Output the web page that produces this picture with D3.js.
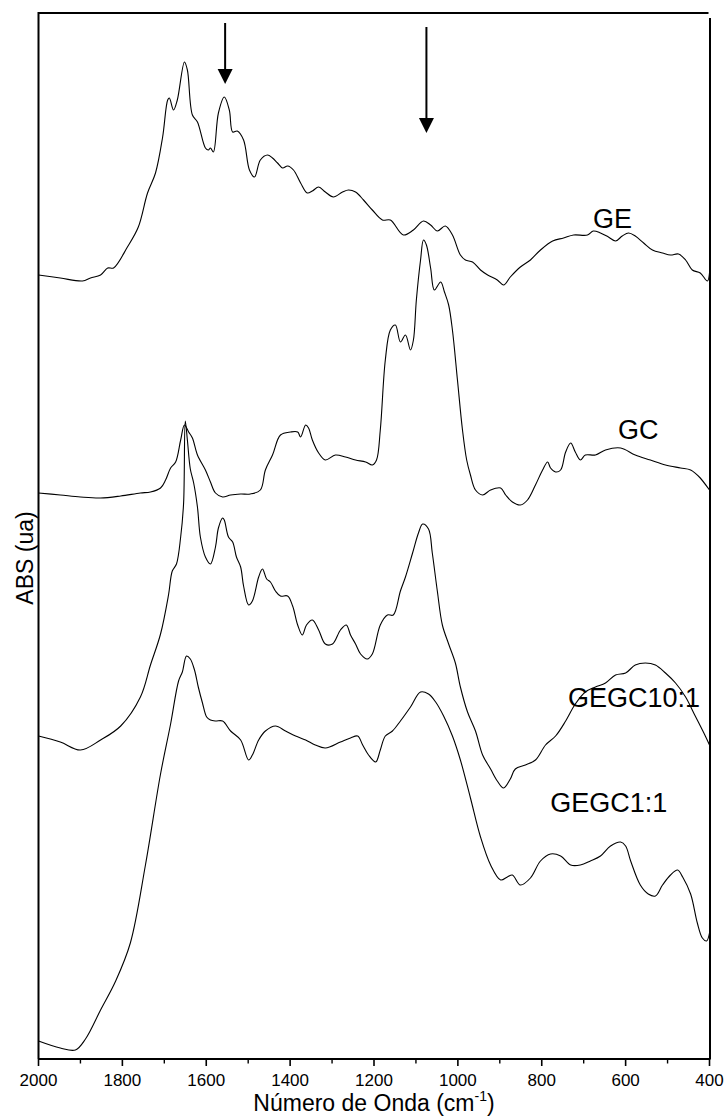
<!DOCTYPE html>
<html>
<head>
<meta charset="utf-8">
<script src="https://cdn.jsdelivr.net/npm/d3@7"></script>
<style>
  html, body { margin: 0; padding: 0; background: #fff; }
  svg { display: block; font-family: "Liberation Sans", Arial, sans-serif; }
</style>
</head>
<body>
<svg id="chart" width="725" height="1117"></svg>
<script>
// FTIR spectra: [wavenumber (cm-1), absorbance (arbitrary units, offset per sample)]
const spectrumGE = [
  [2000,78.4],[1948,78.1],[1895,77.8],[1876,78.1],[1852,78.4],[1835,79.1],[1821,79.1],
  [1788,81.2],[1762,83.2],[1740,86.6],[1721,88.6],[1704,92.2],[1692,95.9],[1688,96.1],
  [1678,94.9],[1669,95.9],[1652,99.7],[1645,98.9],[1633,94.4],[1621,93.7],[1602,91.1],
  [1595,90.9],[1590,91.1],[1583,90.7],[1571,94.6],[1557,96.2],[1545,94.9],[1537,92.7],
  [1526,92.8],[1511,91.9],[1497,88.9],[1485,88.2],[1471,89.9],[1454,90.4],[1442,90.1],
  [1430,89.6],[1418,89.1],[1406,89.3],[1392,88.9],[1375,87.6],[1359,86.6],[1347,86.8],
  [1332,87.2],[1316,86.7],[1297,86.2],[1275,86.7],[1261,86.9],[1244,86.7],[1225,85.9],
  [1204,84.9],[1180,83.9],[1161,83.9],[1130,82.4],[1106,82.9],[1082,83.8],[1065,83.4],
  [1049,82.8],[1030,83.3],[1013,82.4],[994,80.4],[982,79.9],[965,79.7],[946,78.9],
  [929,78.4],[906,77.9],[891,77.4],[875,78.2],[851,79.2],[827,79.9],[803,80.9],
  [774,81.8],[748,82.1],[724,82.4],[691,82.4],[677,82.8],[660,82.6],[641,82.2],
  [624,81.8],[608,82.3],[593,82.6],[577,82.3],[557,81.6],[536,80.9],[512,80.6],
  [493,80.4],[474,80.5],[457,79.9],[441,78.9],[422,78.6],[405,77.8],[400,78.6]
];

const spectrumGC = [
  [2000,56.6],[1948,56.4],[1900,56.2],[1852,56.1],[1804,56.3],[1757,56.6],[1733,56.7],
  [1709,57.1],[1697,57.9],[1685,59.1],[1673,59.7],[1661,61.9],[1652,63.4],[1642,62.7],
  [1633,62.1],[1621,60.4],[1602,58.9],[1590,57.7],[1578,56.6],[1561,56.2],[1542,56.4],
  [1518,56.5],[1495,56.5],[1471,56.9],[1459,58.9],[1442,60.4],[1423,62.4],[1399,62.7],
  [1382,62.7],[1375,62.2],[1363,63.4],[1356,63.1],[1347,61.9],[1332,60.6],[1316,59.9],
  [1292,60.4],[1268,60.2],[1244,59.9],[1220,59.7],[1204,59.4],[1194,59.9],[1185,62.9],
  [1173,69.9],[1161,72.9],[1149,73.4],[1137,71.7],[1125,72.4],[1113,70.9],[1106,71.9],
  [1099,75.9],[1089,79.9],[1082,81.9],[1075,81.4],[1065,79.1],[1056,76.9],[1041,77.7],
  [1032,76.7],[1022,75.4],[1013,72.9],[1001,67.9],[989,62.9],[979,59.9],[970,58.4],
  [958,56.9],[941,56.4],[922,56.9],[898,57.1],[886,56.4],[870,55.7],[851,55.4],
  [834,55.9],[815,57.4],[798,58.9],[786,59.7],[779,59.1],[767,58.7],[755,58.9],
  [743,60.7],[731,61.6],[720,60.7],[708,59.9],[696,60.4],[672,60.4],[648,60.9],
  [612,61.1],[577,60.4],[541,59.9],[505,59.4],[469,59.1],[445,58.9],[422,58.1],[400,56.9]
];

const spectrumGEGC10 = [
  [2000,32.3],[1948,31.7],[1900,30.9],[1852,31.9],[1804,33.3],[1757,36.2],[1733,39.4],
  [1709,42.5],[1690,46.4],[1681,48.8],[1671,49.5],[1661,52.2],[1654,55.6],[1650,63.8],
  [1645,61.9],[1638,59.0],[1630,57.6],[1621,55.2],[1614,52.2],[1602,50.2],[1590,49.5],
  [1578,51.2],[1571,53.1],[1561,54.1],[1557,53.9],[1547,52.2],[1537,51.7],[1528,50.2],
  [1518,49.2],[1511,47.3],[1499,45.4],[1490,45.8],[1475,48.2],[1466,49.0],[1456,48.0],
  [1447,47.7],[1435,46.8],[1423,46.3],[1406,46.3],[1394,45.3],[1382,43.4],[1371,42.4],
  [1361,43.4],[1347,43.9],[1332,42.9],[1316,41.5],[1299,41.5],[1280,42.9],[1266,43.4],
  [1256,42.4],[1244,41.5],[1232,40.5],[1216,40.0],[1204,40.5],[1185,43.4],[1168,44.4],
  [1154,44.4],[1137,46.8],[1125,48.2],[1108,50.6],[1094,52.6],[1084,53.5],[1070,53.0],
  [1061,50.6],[1049,46.8],[1037,43.4],[1022,41.5],[1006,39.6],[994,37.2],[977,34.7],
  [958,32.8],[941,30.4],[922,29.0],[906,27.8],[891,27.1],[875,28.0],[863,29.0],
  [839,29.4],[815,29.9],[791,31.4],[767,32.3],[743,33.8],[720,35.5],[696,36.7],
  [672,37.2],[648,37.6],[624,38.4],[600,38.6],[577,39.4],[553,39.6],[529,39.4],
  [505,38.6],[481,37.6],[457,36.2],[434,34.3],[410,32.3],[400,31.4]
];

const spectrumGEGC11 = [
  [2000,1.8],[1948,1.1],[1912,0.9],[1888,2.0],[1852,4.9],[1816,7.8],[1781,11.6],
  [1745,19.4],[1709,28.5],[1685,33.5],[1666,37.8],[1657,38.7],[1647,40.3],[1638,40.0],
  [1628,38.9],[1619,37.2],[1609,35.6],[1599,34.2],[1590,33.9],[1578,33.8],[1561,33.8],
  [1542,32.8],[1518,31.9],[1499,29.9],[1490,30.4],[1475,31.9],[1459,32.8],[1435,33.3],
  [1411,32.8],[1387,32.3],[1363,31.9],[1340,31.4],[1316,31.1],[1280,31.7],[1256,32.1],
  [1239,32.3],[1227,31.4],[1213,30.4],[1196,29.7],[1185,30.9],[1173,32.3],[1156,32.8],
  [1137,33.8],[1113,35.2],[1089,36.7],[1070,36.5],[1053,35.7],[1034,34.3],[1013,32.3],
  [994,29.9],[970,26.1],[946,22.2],[922,19.4],[898,17.9],[882,18.2],[870,18.4],
  [851,17.4],[827,18.1],[803,19.8],[779,20.5],[755,20.3],[731,19.4],[708,19.4],
  [684,19.8],[660,20.3],[636,21.3],[612,21.7],[600,21.3],[588,19.8],[565,17.4],
  [546,16.5],[529,16.3],[512,17.4],[493,18.4],[476,18.9],[464,18.2],[445,16.5],
  [429,13.6],[417,12.1],[407,11.8],[400,12.6]
];

const seriesNames = ["GE", "GC", "GEGC10:1", "GEGC1:1"];
const seriesData = [spectrumGE, spectrumGC, spectrumGEGC10, spectrumGEGC11];

const xTicksMajor = [2000, 1800, 1600, 1400, 1200, 1000, 800, 600, 400];
const xTicksMinor = [1900, 1700, 1500, 1300, 1100, 900, 700, 500];

// Bands highlighted with arrows (cm-1)
const arrowBands = [1555, 1075];

// ---- layout ----
const svg = d3.select("#chart");
const plot = { left: 38.5, right: 709.5, top: 13, bottom: 1059 };

const x = d3.scaleLinear().domain([2000, 400]).range([plot.left, plot.right]);
const y = d3.scaleLinear().domain([0, 104.6]).range([plot.bottom, plot.top]);

// frame: top and right edges drawn as separate strokes
svg.append("line")
  .attr("x1", plot.left - 1).attr("x2", plot.right - 1)
  .attr("y1", plot.top).attr("y2", plot.top)
  .attr("stroke", "#000").attr("stroke-width", 2);
svg.append("line")
  .attr("x1", plot.right + 0.5).attr("x2", plot.right + 0.5)
  .attr("y1", plot.top + 5).attr("y2", plot.bottom)
  .attr("stroke", "#000").attr("stroke-width", 2);
svg.append("line")
  .attr("x1", plot.left).attr("x2", plot.left)
  .attr("y1", plot.top + 1).attr("y2", plot.bottom)
  .attr("stroke", "#000").attr("stroke-width", 2);

// bottom axis with major (labelled) and minor ticks
const axisG = svg.append("g").attr("transform", `translate(0,${plot.bottom})`);
axisG.append("line")
  .attr("x1", plot.left).attr("x2", plot.right + 1)
  .attr("stroke", "#000").attr("stroke-width", 2);
axisG.selectAll("line.major").data(xTicksMajor).join("line")
  .attr("class", "major")
  .attr("x1", d => x(d)).attr("x2", d => x(d))
  .attr("y1", 0).attr("y2", 7)
  .attr("stroke", "#000").attr("stroke-width", 1.6);
axisG.selectAll("line.minor").data(xTicksMinor).join("line")
  .attr("class", "minor")
  .attr("x1", d => x(d)).attr("x2", d => x(d))
  .attr("y1", 0).attr("y2", 4.5)
  .attr("stroke", "#000").attr("stroke-width", 1.4);
axisG.selectAll("text.tick").data(xTicksMajor).join("text")
  .attr("class", "tick")
  .attr("x", d => x(d)).attr("y", 27)
  .attr("text-anchor", "middle")
  .attr("font-size", 17)
  .text(d => d);

// axis titles
const xTitle = svg.append("text")
  .attr("x", (plot.left + plot.right) / 2).attr("y", 1111)
  .attr("text-anchor", "middle").attr("font-size", 23);
xTitle.append("tspan").text("Número de Onda (cm");
xTitle.append("tspan").attr("font-size", 14).attr("dy", -10).text("-1");
xTitle.append("tspan").attr("dy", 10).text(")");

svg.append("text")
  .attr("transform", "translate(33,558) rotate(-90)")
  .attr("text-anchor", "middle").attr("font-size", 23)
  .text("ABS (ua)");

// spectra
const line = d3.line()
  .x(d => x(d[0]))
  .y(d => y(d[1]))
  .curve(d3.curveCatmullRom.alpha(0.5));

svg.append("g").selectAll("path").data(seriesData).join("path")
  .attr("d", d => line(d))
  .attr("fill", "none")
  .attr("stroke", "#000")
  .attr("stroke-width", 1.1)
  .attr("stroke-linejoin", "round");

// sample labels
const labelPos = [
  { wn: 631, v: 83.1 },
  { wn: 570, v: 62.0 },
  { wn: 580, v: 35.2 },
  { wn: 640, v: 24.7 }
];
svg.append("g").selectAll("text").data(seriesNames).join("text")
  .attr("x", (d, i) => x(labelPos[i].wn))
  .attr("y", (d, i) => y(labelPos[i].v))
  .attr("text-anchor", "middle")
  .attr("font-size", 27)
  .text(d => d);

// arrows pointing at the characteristic bands
const arrowSpans = [[103.6, 97.5], [103.2, 92.6]];
const arrows = svg.append("g");
arrowBands.forEach((wn, i) => {
  const [v0, v1] = arrowSpans[i];
  const ax = x(wn), y0 = y(v0), y1 = y(v1);
  arrows.append("line")
    .attr("x1", ax).attr("x2", ax)
    .attr("y1", y0).attr("y2", y1 - 14)
    .attr("stroke", "#000").attr("stroke-width", 2);
  arrows.append("path")
    .attr("d", `M${ax - 7.5},${y1 - 15} L${ax + 7.5},${y1 - 15} L${ax},${y1} Z`)
    .attr("fill", "#000");
});
</script>
</body>
</html>
